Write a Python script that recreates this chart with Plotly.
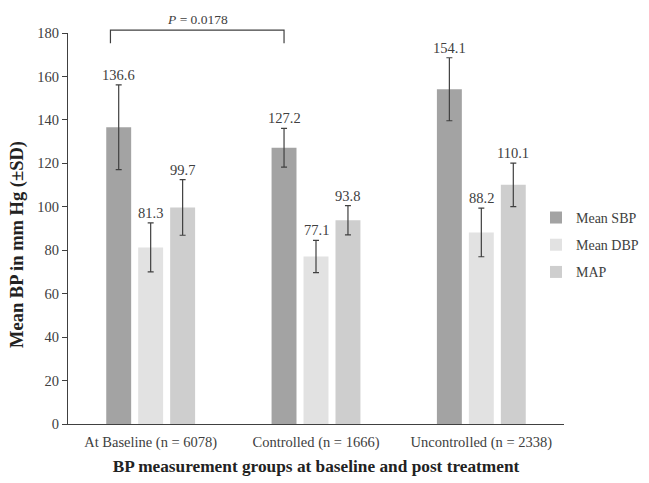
import plotly.graph_objects as go

categories = ["At Baseline (n = 6078)", "Controlled (n = 1666)", "Uncontrolled (n = 2338)"]
series_names = ["Mean SBP", "Mean DBP", "MAP"]
sbp_mean = [136.6, 127.2, 154.1]
sbp_sd = [19.5, 8.9, 14.5]
dbp_mean = [81.3, 77.1, 88.2]
dbp_sd = [11.3, 7.4, 11.2]
map_mean = [99.7, 93.8, 110.1]
map_sd = [12.8, 6.7, 10.0]
y_ticks = [0, 20, 40, 60, 80, 100, 120, 140, 160, 180]
p_label = "<i>P</i> = 0.0178"

colors = ["#a3a3a3", "#e2e2e2", "#cecece"]
means = [sbp_mean, dbp_mean, map_mean]
sds = [sbp_sd, dbp_sd, map_sd]
FONT = "Liberation Serif"
DARK = "#404040"

bargap = 0.42
slot = (1 - bargap) / 3
offsets = [-slot, 0, slot]
xpos = list(range(len(categories)))

fig = go.Figure()
for k in range(3):
    fig.add_trace(go.Bar(
        x=xpos, y=means[k], name=series_names[k],
        marker=dict(color=colors[k], line=dict(width=0)),
        error_y=dict(type="data", array=sds[k], visible=True,
                     color=DARK, thickness=1.2, width=3),
        legendgroup=series_names[k],
    ))
    for i in xpos:
        fig.add_annotation(
            x=i + offsets[k], y=means[k][i] + sds[k][i], xref="x", yref="y",
            text=f"{means[k][i]:.1f}", showarrow=False, yanchor="bottom", yshift=0,
            font=dict(family=FONT, size=14.5, color=DARK),
        )

# significance bracket between baseline SBP and controlled SBP
x0 = 0 + offsets[0] - 0.05
x1 = 1 + offsets[0]
top = 1.0075
low = 0.974
fig.add_shape(type="path", xref="x", yref="paper",
              path=f"M {x0},{low} L {x0},{top} L {x1},{top} L {x1},{low}",
              line=dict(color=DARK, width=1.2))
fig.add_annotation(x=(x0 + x1) / 2, y=top, xref="x", yref="paper", text=p_label,
                   showarrow=False, yanchor="bottom", yshift=1,
                   font=dict(family=FONT, size=13.5, color=DARK))

# y-axis title (placed as annotation to match the reference's vertical offset)
fig.add_annotation(x=0, y=1 - (237 - 25) / 391, xref="paper", yref="paper",
                   xshift=-51, text="<b>Mean BP in mm Hg (±SD)</b>", textangle=-90,
                   showarrow=False, xanchor="center", yanchor="middle",
                   font=dict(family=FONT, size=18.5, color="#222222"))

fig.update_layout(
    width=649, height=483,
    margin=dict(l=60, r=93, t=25, b=67, autoexpand=False),
    paper_bgcolor="white", plot_bgcolor="white",
    barmode="group", bargap=bargap, bargroupgap=0.22,
    font=dict(family=FONT, color=DARK, size=14.5),
    showlegend=True,
    legend=dict(x=0.9435, y=0.458, xanchor="left", yanchor="middle",
                font=dict(family=FONT, size=14, color=DARK),
                tracegroupgap=6, itemwidth=30, bgcolor="rgba(0,0,0,0)"),
    xaxis=dict(tickmode="array", tickvals=xpos, ticktext=categories,
               range=[-0.5, 2.5], showline=True, linecolor=DARK, linewidth=1.2,
               ticks="", showgrid=False, zeroline=False, ticklabelstandoff=4,
               tickfont=dict(family=FONT, size=14.5, color=DARK),
               title=dict(text="<b>BP measurement groups at baseline and post treatment</b>",
                          font=dict(family=FONT, size=17.3, color="#222222"), standoff=10)),
    yaxis=dict(range=[0, 180], tickmode="array", tickvals=y_ticks,
               showline=True, linecolor=DARK, linewidth=1.2, ticks="outside",
               ticklen=5, tickcolor=DARK, showgrid=False, zeroline=False,
               tickfont=dict(family=FONT, size=14.5, color=DARK)),
)

fig.write_html("out.html")
